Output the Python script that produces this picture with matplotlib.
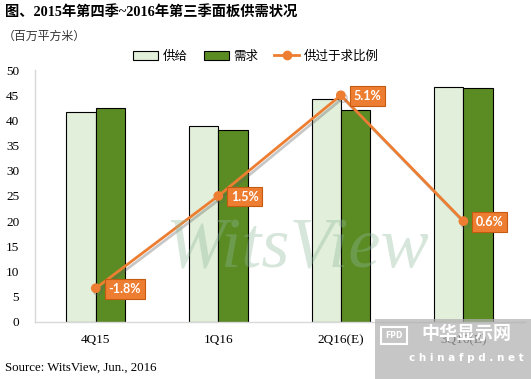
import numpy as np
import matplotlib.pyplot as plt
import matplotlib.patheffects as pe
from matplotlib.patches import Patch, Rectangle
from matplotlib.lines import Line2D

# data
quarters = ['4Q15', '1Q16', '2Q16(E)', '3Q16(E)']
supply = [41.6, 38.8, 44.2, 46.7]
demand = [42.4, 38.2, 42.0, 46.4]
oversupply = [-1.8, 1.5, 5.1, 0.6]
oversupply_labels = ['-1.8%', '1.5%', '5.1%', '0.6%']

c_supply = '#E2EFDA'
c_demand = '#5B8C24'
c_line = '#ED7D31'

serif_cjk = ['Liberation Serif', 'Noto Sans CJK SC']
cjk = ['Noto Sans CJK SC', 'DejaVu Sans']

fig = plt.figure(figsize=(5.31, 3.79), dpi=100)
ax = fig.add_axes([0.065, 0.151, 0.923, 0.664])

x = np.arange(len(quarters))
w = 0.239
ax.bar(x - w / 2, supply, w, color=c_supply, edgecolor='black', linewidth=0.8, zorder=2)
ax.bar(x + w / 2, demand, w, color=c_demand, edgecolor='black', linewidth=0.8, zorder=2)

ax.set_xlim(-0.5, len(quarters) - 0.5)
ax.set_ylim(0, 50)
ax.set_yticks(np.arange(0, 51, 5))
ax.set_xticks(x)
ax.set_xticklabels(quarters, family='Liberation Serif', fontsize=9.5)
for lab in ax.get_yticklabels():
    lab.set_family('Liberation Serif')
    lab.set_fontsize(9.5)
ax.tick_params(axis='both', length=0)
ax.tick_params(axis='y', pad=11)
ax.tick_params(axis='x', pad=9)
for s in ['top', 'right']:
    ax.spines[s].set_visible(False)
for s in ['left', 'bottom']:
    ax.spines[s].set_color('#D9D9D9')
    ax.spines[s].set_linewidth(1)

# ratio line on hidden secondary axis
ax2 = ax.twinx()
ax2.set_ylim(-3, 6)
ax2.axis('off')
ax2.plot(x, oversupply, color=c_line, linewidth=2, marker='o', markersize=6,
         zorder=3,
         path_effects=[pe.SimpleLineShadow(offset=(1.5, -2), shadow_color='#606060', alpha=0.35),
                       pe.Normal()])
for xi, v, t in zip(x, oversupply, oversupply_labels):
    ax2.annotate(t, (xi, v), xytext=(9, -0.5), textcoords='offset points',
                 ha='left', va='center', color='white', fontsize=9,
                 fontweight='bold', family='Lato',
                 bbox=dict(boxstyle='square,pad=0.3', fc=c_line, ec='#C55A11', lw=0.8),
                 zorder=4)

# WitsView watermark
fig.text(0.56, 0.34, 'WitsView', family='Liberation Serif', style='italic',
         fontsize=52, color='#8DB89A', alpha=0.35, ha='center', va='center', zorder=5)

# titles
fig.text(0.01, 0.968, '图、2015年第四季~2016年第三季面板供需状况', family=serif_cjk,
         fontsize=10.3, fontweight='bold', ha='left', va='center')
fig.text(0.005, 0.905, '（百万平方米）', family=cjk, fontsize=8.6,
         color='#333333', ha='left', va='center')
fig.text(0.01, 0.029, 'Source: WitsView, Jun., 2016', family='Liberation Serif',
         fontsize=9.3, ha='left', va='center')

handles = [Patch(facecolor=c_supply, edgecolor='black', linewidth=0.8),
           Patch(facecolor=c_demand, edgecolor='black', linewidth=0.8),
           Line2D([], [], color=c_line, linewidth=2, marker='o', markersize=6)]
fig.legend(handles, ['供给', '需求', '供过于求比例'], ncol=3, frameon=False,
           loc='center', bbox_to_anchor=(0.482, 0.852), prop={'family': cjk, 'size': 9},
           handlelength=2, handletextpad=0.35, columnspacing=1.3)

# chinafpd watermark box
fig.patches.append(Rectangle((0.706, 0.0), 0.294, 0.158, transform=fig.transFigure,
                             facecolor='#B0B0B0', alpha=0.72, edgecolor='none', zorder=6))
fig.text(0.742, 0.115, 'FPD', color='white', fontsize=5.5, fontweight='bold',
         ha='center', va='center', zorder=7,
         bbox=dict(boxstyle='square,pad=0.5', fc='none', ec='white', lw=1.5))
fig.text(0.878, 0.121, '中华显示网', family=cjk, color='white', fontsize=13,
         fontweight='bold', ha='center', va='center', zorder=7)
fig.text(0.878, 0.055, 'c h i n a f p d . n e t', family='DejaVu Sans', color='white',
         fontsize=7.5, fontweight='bold', ha='center', va='center', zorder=7)

fig.savefig('out.png', dpi=100)
